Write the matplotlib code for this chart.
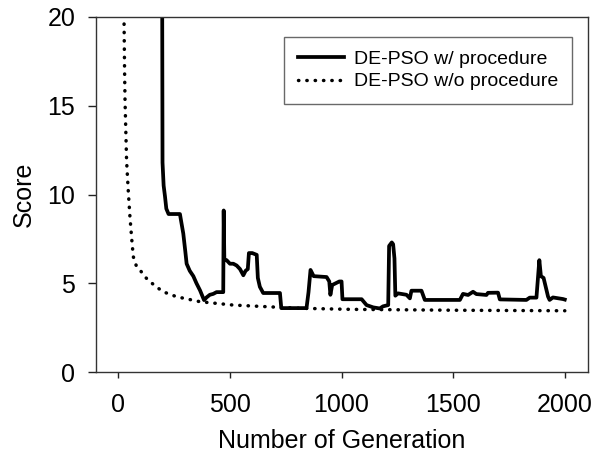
import matplotlib
matplotlib.use("Agg")
import matplotlib.pyplot as plt

# ---- data ----
with_gen = [195, 198, 203, 209, 215, 225, 276, 280, 291, 300, 306, 320, 336, 350, 366, 384,
            395, 410, 425, 440, 470, 472, 475, 485, 500, 515, 530, 545, 560, 570, 580, 585,
            600, 620, 625, 634, 649, 724, 730, 843, 852, 861, 875, 933, 945, 950, 958, 990,
            1000, 1004, 1090, 1112, 1142, 1171, 1186, 1209, 1213, 1225, 1231, 1237, 1241,
            1253, 1291, 1306, 1313, 1358, 1373, 1530, 1544, 1567, 1589, 1604, 1649, 1656,
            1701, 1709, 1828, 1843, 1873, 1886, 1893, 1905, 1925, 1932, 1947, 1992, 2000]
with_score = [30, 11.8, 10.5, 9.9, 9.2, 8.9, 8.9, 8.6, 7.8, 6.8, 6.1, 5.7, 5.4, 5.0, 4.6, 4.05,
              4.2, 4.35, 4.4, 4.5, 4.5, 9.1, 6.3, 6.3, 6.1, 6.1, 6.0, 5.8, 5.45, 5.7, 5.8, 6.7,
              6.7, 6.6, 5.3, 4.8, 4.45, 4.45, 3.6, 3.6, 4.5, 5.75, 5.4, 5.35, 5.1, 4.35, 4.9, 5.1,
              5.1, 4.1, 4.1, 3.77, 3.64, 3.58, 3.7, 3.77, 7.1, 7.3, 7.2, 6.4, 4.3,
              4.43, 4.35, 4.15, 4.58, 4.58, 4.06, 4.06, 4.4, 4.34, 4.52, 4.39, 4.34, 4.46,
              4.47, 4.09, 4.06, 4.19, 4.19, 6.3, 5.4, 5.3, 4.25, 4.06, 4.2, 4.11, 4.08]

without_gen = [20, 25, 28, 30, 37, 45, 52, 60, 67, 80, 97, 120, 142, 170, 201, 261, 366,
               515, 664, 813, 1037, 1500, 2000]
without_score = [25, 20.5, 17, 15.3, 11.9, 10.1, 8.75, 7.5, 6.5, 6.0, 5.75, 5.35, 5.09, 4.8,
                 4.52, 4.24, 3.96, 3.77, 3.68, 3.59, 3.53, 3.48, 3.45]

series_labels = ["DE-PSO w/ procedure", "DE-PSO w/o procedure"]
x_ticks = [0, 500, 1000, 1500, 2000]
y_ticks = [0, 5, 10, 15, 20]
x_label = "Number of Generation"
y_label = "Score"

plt.rcParams['font.family'] = ['Liberation Sans', 'DejaVu Sans']

fig = plt.figure(figsize=(6.05, 4.58), dpi=100)
ax = fig.add_axes([96/605, 1-372/458, (588-96)/605, (372-17)/458])

ax.plot(with_gen, with_score, color='black', lw=2.7, solid_joinstyle='round',
        label=series_labels[0])
ax.plot(without_gen, without_score, color='black', lw=2.5,
        linestyle=(0, (0.1, 2.3)), dash_capstyle='round', label=series_labels[1])

ax.set_xlim(-100, 2104)
ax.set_ylim(0, 20)
ax.set_xticks(x_ticks)
ax.set_yticks(y_ticks)
ax.tick_params(axis='x', direction='out', length=4, width=1, pad=11, labelsize=18, colors='#222222')
ax.tick_params(axis='y', direction='out', length=6, width=1, pad=9, labelsize=18, colors='#222222')
for lab in ax.get_xticklabels() + ax.get_yticklabels():
    lab.set_color('black')
for s in ax.spines.values():
    s.set_linewidth(1.0)
    s.set_color('#333333')

ax.set_xlabel(x_label, fontsize=18, labelpad=9)
ax.set_ylabel(y_label, fontsize=18, labelpad=8)

leg = ax.legend(loc='upper right', bbox_to_anchor=(0.967, 0.9445), borderaxespad=0,
                fontsize=14, frameon=True, fancybox=False, handlelength=2.4,
                labelspacing=0.25, borderpad=0.7, handletextpad=0.5)
leg.get_frame().set_edgecolor('#444444')
leg.get_frame().set_linewidth(1.0)

fig.savefig("out.png", dpi=100)
